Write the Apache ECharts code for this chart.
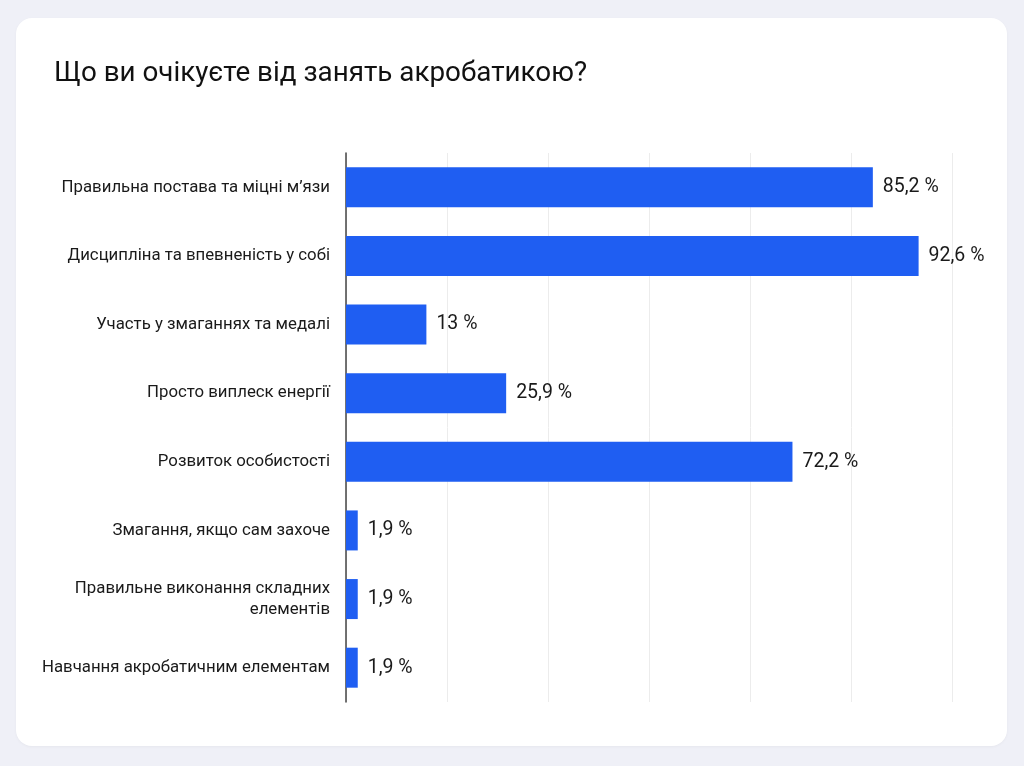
<!DOCTYPE html>
<html>
<head>
<meta charset="utf-8">
<script src="https://cdn.jsdelivr.net/npm/echarts@6/dist/echarts.min.js"></script>
<style>
  html, body { margin: 0; padding: 0; background: #eff0f7; }
  #card {
    position: absolute; left: 16px; top: 18px; width: 991px; height: 728px;
    background: #fff; border-radius: 16px;
    box-shadow: 0 1px 3px rgba(0, 0, 0, 0.04);
  }
  #chart { position: absolute; left: 0; top: 0; width: 1024px; height: 766px; }
</style>
</head>
<body>
<div id="card"></div>
<div id="chart"></div>
<script>
let titleText = 'Що ви очікуєте від занять акробатикою?';

let categories = [
  'Правильна постава та міцні м’язи',
  'Дисципліна та впевненість у собі',
  'Участь у змаганнях та медалі',
  'Просто виплеск енергії',
  'Розвиток особистості',
  'Змагання, якщо сам захоче',
  'Правильне виконання складних елементів',
  'Навчання акробатичним елементам'
];

let percents = [85.2, 92.6, 13, 25.9, 72.2, 1.9, 1.9, 1.9];

// переносимо довгі підписи по словах
function wrapLabel(text, maxChars) {
  let words = text.split(' ');
  let lines = [];
  let line = '';
  for (var i = 0; i < words.length; i++) {
    let next = line ? line + ' ' + words[i] : words[i];
    if (next.length > maxChars && line) {
      lines.push(line);
      line = words[i];
    } else {
      line = next;
    }
  }
  lines.push(line);
  return lines.join('\n');
}

var chart = echarts.init(document.getElementById('chart'), null, {
  width: 1024,
  height: 766
});

let option = {
  backgroundColor: 'transparent',
  textStyle: {
    fontFamily: 'Roboto, "Noto Sans", sans-serif'
  },
  title: {
    text: titleText,
    left: 49,
    top: 55,
    textStyle: {
      fontSize: 27.8,
      fontWeight: 'normal',
      color: '#111'
    }
  },
  grid: {
    left: 346,
    right: 72,
    top: 153,
    bottom: 64
  },
  xAxis: {
    type: 'value',
    min: 0,
    max: 98,
    interval: 98 / 6,
    axisLine: { show: false },
    axisTick: { show: false },
    axisLabel: { show: false },
    splitLine: {
      lineStyle: { color: '#ececec', width: 1 }
    }
  },
  yAxis: {
    type: 'category',
    inverse: true,
    data: categories,
    axisLine: {
      lineStyle: { color: '#444', width: 1.5 }
    },
    axisTick: { show: false },
    axisLabel: {
      margin: 16,
      fontSize: 16.8,
      color: '#1a1a1a',
      lineHeight: 21,
      align: 'right',
      formatter: function(v) {
        return wrapLabel(v, 32);
      }
    }
  },
  series: [{
    type: 'bar',
    data: percents,
    barWidth: 40,
    itemStyle: { color: '#1f5ef2' },
    label: {
      show: true,
      position: 'right',
      distance: 10,
      fontSize: 19.5,
      color: '#1a1a1a',
      formatter: function(p) {
        return String(p.value).replace('.', ',') + ' %';
      }
    }
  }]
};

chart.setOption(option);
</script>
</body>
</html>
